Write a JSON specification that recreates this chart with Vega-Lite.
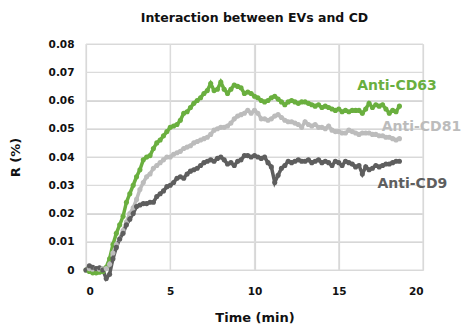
{
  "$schema": "https://vega.github.io/schema/vega-lite/v6.json",
  "width": 337,
  "height": 226,
  "autosize": {"type": "none"},
  "padding": {"left": 86, "top": 44, "right": 39, "bottom": 58},
  "background": "white",
  "title": {"text": "Interaction between EVs and CD", "font": "DejaVu Sans", "fontSize": 12.5, "fontWeight": "bold", "color": "#111111", "anchor": "middle", "offset": 15},
  "config": {
    "view": {"stroke": null},
    "axis": {"domain": false, "tickSize": 0, "grid": true, "gridColor": "#d6d6d6", "gridOpacity": 1, "gridWidth": 1.2, "labelFont": "DejaVu Sans", "labelFontWeight": "bold", "labelFontSize": 10.5, "labelColor": "#111111", "titleFont": "DejaVu Sans", "titleFontWeight": "bold", "titleFontSize": 13, "titleColor": "#111111"}
  },
  "datasets": {
    "curves": [
      {"t":0,"cd63":0,"cd81":0,"cd9":0},
      {"t":0.2,"cd63":-0.0005,"cd81":0.0005,"cd9":0.0015},
      {"t":0.4,"cd63":-0.001,"cd81":0.0003,"cd9":0.001},
      {"t":0.6,"cd63":-0.001,"cd81":0.0005,"cd9":0.0005},
      {"t":0.8,"cd63":-0.0008,"cd81":0.0003,"cd9":0.0008},
      {"t":1.0,"cd63":-0.0005,"cd81":0.0005,"cd9":0},
      {"t":1.2,"cd63":0.001,"cd81":0.0005,"cd9":-0.003},
      {"t":1.4,"cd63":0.004,"cd81":0.002,"cd9":-0.0015},
      {"t":1.6,"cd63":0.009,"cd81":0.006,"cd9":0.004},
      {"t":1.8,"cd63":0.013,"cd81":0.009,"cd9":0.008},
      {"t":2.0,"cd63":0.016,"cd81":0.011,"cd9":0.011},
      {"t":2.2,"cd63":0.019,"cd81":0.014,"cd9":0.013},
      {"t":2.4,"cd63":0.024,"cd81":0.017,"cd9":0.016},
      {"t":2.6,"cd63":0.027,"cd81":0.02,"cd9":0.018},
      {"t":2.8,"cd63":0.03,"cd81":0.022,"cd9":0.02},
      {"t":3.0,"cd63":0.033,"cd81":0.025,"cd9":0.0225},
      {"t":3.2,"cd63":0.0355,"cd81":0.0285,"cd9":0.023},
      {"t":3.4,"cd63":0.039,"cd81":0.031,"cd9":0.0235},
      {"t":3.6,"cd63":0.04,"cd81":0.033,"cd9":0.0235},
      {"t":3.8,"cd63":0.0405,"cd81":0.034,"cd9":0.024},
      {"t":4.0,"cd63":0.043,"cd81":0.036,"cd9":0.024},
      {"t":4.2,"cd63":0.045,"cd81":0.037,"cd9":0.026},
      {"t":4.4,"cd63":0.046,"cd81":0.038,"cd9":0.027},
      {"t":4.6,"cd63":0.0475,"cd81":0.039,"cd9":0.028},
      {"t":4.8,"cd63":0.049,"cd81":0.04,"cd9":0.0295},
      {"t":5.0,"cd63":0.0505,"cd81":0.04,"cd9":0.03},
      {"t":5.2,"cd63":0.051,"cd81":0.041,"cd9":0.031},
      {"t":5.4,"cd63":0.0515,"cd81":0.0415,"cd9":0.0325},
      {"t":5.6,"cd63":0.053,"cd81":0.042,"cd9":0.033},
      {"t":5.8,"cd63":0.0555,"cd81":0.043,"cd9":0.0325},
      {"t":6.0,"cd63":0.056,"cd81":0.0435,"cd9":0.034},
      {"t":6.2,"cd63":0.0575,"cd81":0.044,"cd9":0.035},
      {"t":6.4,"cd63":0.059,"cd81":0.045,"cd9":0.0355},
      {"t":6.6,"cd63":0.06,"cd81":0.0455,"cd9":0.036},
      {"t":6.8,"cd63":0.061,"cd81":0.046,"cd9":0.037},
      {"t":7.0,"cd63":0.0625,"cd81":0.0465,"cd9":0.038},
      {"t":7.2,"cd63":0.0635,"cd81":0.047,"cd9":0.0385},
      {"t":7.4,"cd63":0.066,"cd81":0.048,"cd9":0.039},
      {"t":7.6,"cd63":0.0635,"cd81":0.0495,"cd9":0.0385},
      {"t":7.8,"cd63":0.064,"cd81":0.05,"cd9":0.0395},
      {"t":8.0,"cd63":0.0665,"cd81":0.0505,"cd9":0.04},
      {"t":8.2,"cd63":0.064,"cd81":0.0505,"cd9":0.039},
      {"t":8.4,"cd63":0.0625,"cd81":0.051,"cd9":0.0375},
      {"t":8.6,"cd63":0.064,"cd81":0.052,"cd9":0.038},
      {"t":8.8,"cd63":0.0655,"cd81":0.0535,"cd9":0.037},
      {"t":9.0,"cd63":0.065,"cd81":0.0545,"cd9":0.0385},
      {"t":9.2,"cd63":0.0645,"cd81":0.055,"cd9":0.039},
      {"t":9.4,"cd63":0.0625,"cd81":0.0555,"cd9":0.0405},
      {"t":9.6,"cd63":0.063,"cd81":0.0565,"cd9":0.0405},
      {"t":9.8,"cd63":0.0625,"cd81":0.0555,"cd9":0.04},
      {"t":10.0,"cd63":0.0615,"cd81":0.0565,"cd9":0.0405},
      {"t":10.2,"cd63":0.061,"cd81":0.0555,"cd9":0.04},
      {"t":10.4,"cd63":0.06,"cd81":0.0535,"cd9":0.0395},
      {"t":10.6,"cd63":0.0595,"cd81":0.0535,"cd9":0.04},
      {"t":10.8,"cd63":0.06,"cd81":0.053,"cd9":0.038},
      {"t":11.0,"cd63":0.061,"cd81":0.0535,"cd9":0.0365},
      {"t":11.2,"cd63":0.0615,"cd81":0.0545,"cd9":0.031},
      {"t":11.4,"cd63":0.0605,"cd81":0.055,"cd9":0.0335},
      {"t":11.6,"cd63":0.0595,"cd81":0.054,"cd9":0.036},
      {"t":11.8,"cd63":0.0585,"cd81":0.053,"cd9":0.037},
      {"t":12.0,"cd63":0.0595,"cd81":0.0525,"cd9":0.0385},
      {"t":12.2,"cd63":0.06,"cd81":0.0525,"cd9":0.038},
      {"t":12.4,"cd63":0.0595,"cd81":0.052,"cd9":0.0385},
      {"t":12.6,"cd63":0.059,"cd81":0.0515,"cd9":0.039},
      {"t":12.8,"cd63":0.0595,"cd81":0.0505,"cd9":0.0385},
      {"t":13.0,"cd63":0.0595,"cd81":0.0525,"cd9":0.0385},
      {"t":13.2,"cd63":0.059,"cd81":0.0515,"cd9":0.039},
      {"t":13.4,"cd63":0.0585,"cd81":0.051,"cd9":0.038},
      {"t":13.6,"cd63":0.058,"cd81":0.0515,"cd9":0.0385},
      {"t":13.8,"cd63":0.0585,"cd81":0.0505,"cd9":0.039},
      {"t":14.0,"cd63":0.0575,"cd81":0.0505,"cd9":0.038},
      {"t":14.2,"cd63":0.058,"cd81":0.05,"cd9":0.0385},
      {"t":14.4,"cd63":0.0575,"cd81":0.051,"cd9":0.038},
      {"t":14.6,"cd63":0.057,"cd81":0.0495,"cd9":0.037},
      {"t":14.8,"cd63":0.0565,"cd81":0.049,"cd9":0.0385},
      {"t":15.0,"cd63":0.057,"cd81":0.049,"cd9":0.038},
      {"t":15.2,"cd63":0.056,"cd81":0.0485,"cd9":0.037},
      {"t":15.4,"cd63":0.0565,"cd81":0.0485,"cd9":0.0385},
      {"t":15.6,"cd63":0.056,"cd81":0.0495,"cd9":0.038},
      {"t":15.8,"cd63":0.0565,"cd81":0.049,"cd9":0.0375},
      {"t":16.0,"cd63":0.0565,"cd81":0.0485,"cd9":0.0365},
      {"t":16.2,"cd63":0.0565,"cd81":0.048,"cd9":0.037},
      {"t":16.4,"cd63":0.0555,"cd81":0.0485,"cd9":0.034},
      {"t":16.6,"cd63":0.057,"cd81":0.0485,"cd9":0.0365},
      {"t":16.8,"cd63":0.059,"cd81":0.0485,"cd9":0.0355},
      {"t":17.0,"cd63":0.0575,"cd81":0.048,"cd9":0.036},
      {"t":17.2,"cd63":0.0585,"cd81":0.048,"cd9":0.037},
      {"t":17.4,"cd63":0.058,"cd81":0.0475,"cd9":0.0365},
      {"t":17.6,"cd63":0.0585,"cd81":0.0475,"cd9":0.037},
      {"t":17.8,"cd63":0.057,"cd81":0.047,"cd9":0.0375},
      {"t":18.0,"cd63":0.0555,"cd81":0.047,"cd9":0.0375},
      {"t":18.2,"cd63":0.0565,"cd81":0.0465,"cd9":0.038},
      {"t":18.4,"cd63":0.056,"cd81":0.046,"cd9":0.0385},
      {"t":18.6,"cd63":0.058,"cd81":0.0465,"cd9":0.0385}
    ],
    "labels": [
      {"series":"cd63","label":"Anti-CD63","t":16.1,"r":0.0651},
      {"series":"cd81","label":"Anti-CD81","t":17.55,"r":0.0506},
      {"series":"cd9","label":"Anti-CD9","t":17.3,"r":0.0303}
    ],
    "xgrid": [{"t":0},{"t":5},{"t":10},{"t":15},{"t":20}],
    "ygrid": [{"r":0},{"r":0.01},{"r":0.02},{"r":0.03},{"r":0.04},{"r":0.05},{"r":0.06},{"r":0.07},{"r":0.08}]
  },
  "encoding": {
    "x": {"field": "t", "type": "quantitative", "scale": {"domain": [0, 20], "nice": false}, "axis": {"values": [0, 5, 10, 15, 20], "title": "Time (min)", "labelPadding": 16, "titlePadding": 15, "labelOverlap": false}},
    "y": {"field": "r", "type": "quantitative", "scale": {"domain": [0, 0.08], "nice": false, "zero": false}, "axis": {"values": [0, 0.01, 0.02, 0.03, 0.04, 0.05, 0.06, 0.07, 0.08], "format": "~g", "title": "R (%)", "labelPadding": 12, "titlePadding": 26, "labelOverlap": false}}
  },
  "layer": [
    {
      "data": {"name": "xgrid"},
      "mark": {"type": "rule", "color": "#dcdcdc", "strokeWidth": 1.2},
      "encoding": {"x": {"field": "t", "type": "quantitative"}, "y": null}
    },
    {
      "data": {"name": "ygrid"},
      "mark": {"type": "rule", "color": "#dcdcdc", "strokeWidth": 1.2},
      "encoding": {"y": {"field": "r", "type": "quantitative"}, "x": null}
    },
    {
      "data": {"name": "curves"},
      "transform": [{"fold": ["cd63", "cd81", "cd9"], "as": ["series", "r"]}],
      "mark": {"type": "line", "strokeWidth": 3.5, "clip": false},
      "encoding": {"color": {"field": "series", "type": "nominal", "scale": {"domain": ["cd63", "cd81", "cd9"], "range": ["#6aaf3f", "#bcbcbc", "#5e5e5e"]}, "legend": null}}
    },
    {
      "data": {"name": "curves"},
      "transform": [{"fold": ["cd63", "cd81", "cd9"], "as": ["series", "r"]}],
      "mark": {"type": "circle", "size": 26, "opacity": 1, "clip": false},
      "encoding": {"color": {"field": "series", "type": "nominal", "legend": null}}
    },
    {
      "data": {"name": "labels"},
      "mark": {"type": "text", "align": "left", "baseline": "middle", "font": "DejaVu Sans", "fontWeight": "bold", "fontSize": 14, "clip": false},
      "encoding": {
        "text": {"field": "label"},
        "color": {"field": "series", "type": "nominal", "legend": null}
      }
    }
  ]
}
